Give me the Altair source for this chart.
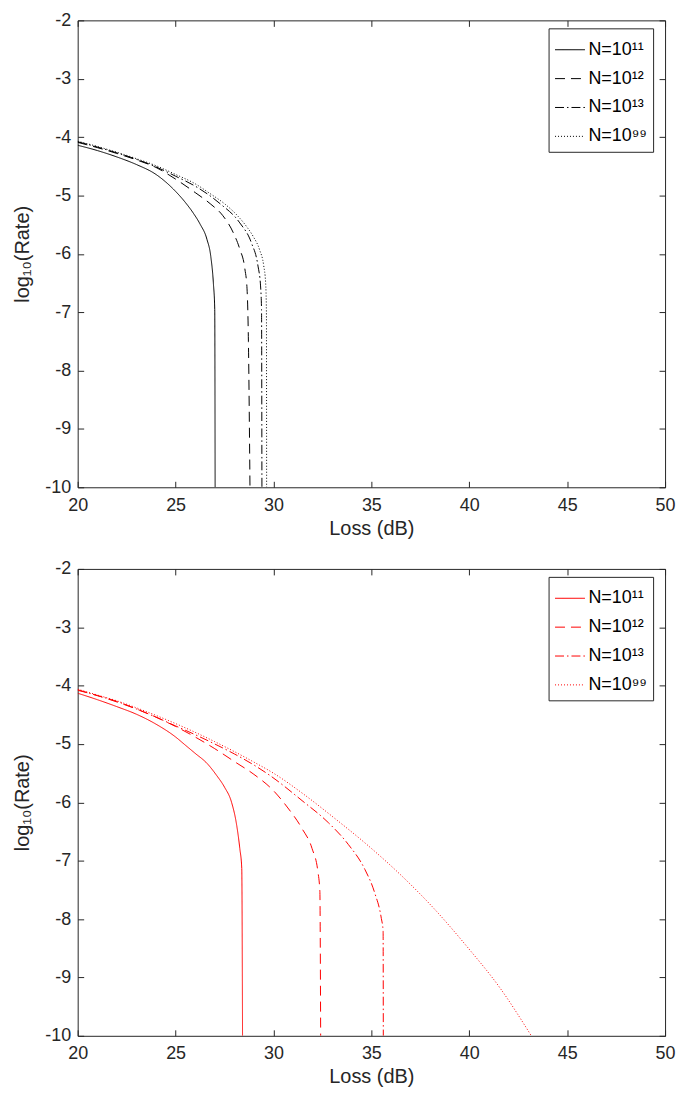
import altair as alt
import pandas as pd

# ---------------- data ----------------
series = ["N=10¹¹", "N=10¹²", "N=10¹³", "N=10⁹⁹"]
dashes = [[1, 0], [10, 6], [9, 3, 1.5, 3], [1, 2]]
x_ticks = [20, 25, 30, 35, 40, 45, 50]
y_ticks = [-2, -3, -4, -5, -6, -7, -8, -9, -10]

# top panel
top_loss_11 = [20, 21, 22, 23, 24, 24.5, 25, 25.5, 25.9, 26.25, 26.6, 26.8, 26.93, 27.0, 27.02]
top_rate_11 = [-4.14, -4.23, -4.34, -4.47, -4.64, -4.77, -4.93, -5.12, -5.30, -5.49, -5.75, -6.05, -6.5, -6.95, -10]
top_loss_12 = [20, 21, 22, 23, 24, 25, 26, 26.8, 27.4, 27.95, 28.28, 28.54, 28.65, 28.72, 28.8]
top_rate_12 = [-4.09, -4.18, -4.28, -4.39, -4.52, -4.72, -4.95, -5.15, -5.34, -5.64, -5.92, -6.26, -6.6, -7.5, -10]
top_loss_13 = [20, 21, 22, 23, 24, 25, 26.1, 27.27, 28.28, 28.87, 29.21, 29.34, 29.39, 29.41]
top_rate_13 = [-4.08, -4.17, -4.27, -4.38, -4.51, -4.67, -4.86, -5.14, -5.47, -5.81, -6.21, -6.55, -6.95, -10]
top_loss_99 = [20, 21, 22, 23, 24, 25, 26, 26.77, 27.53, 28.2, 28.62, 28.96, 29.29, 29.5, 29.6, 29.64, 29.65]
top_rate_99 = [-4.07, -4.16, -4.26, -4.37, -4.49, -4.64, -4.80, -4.97, -5.15, -5.36, -5.53, -5.70, -5.93, -6.2, -6.5, -7.0, -10]

# bottom panel
bot_loss_11 = [20, 21, 22, 23, 24, 25, 25.5, 26, 26.6, 27.1, 27.5, 27.86, 28.12, 28.28, 28.38, 28.42]
bot_rate_11 = [-4.13, -4.24, -4.36, -4.49, -4.66, -4.88, -5.02, -5.16, -5.33, -5.54, -5.74, -6.0, -6.39, -6.79, -7.13, -10]
bot_loss_12 = [20, 21, 22, 23, 24, 25, 26, 27, 28, 29, 30, 30.7, 31.46, 31.97, 32.27, 32.37, 32.41]
bot_rate_12 = [-4.08, -4.17, -4.28, -4.40, -4.54, -4.70, -4.88, -5.08, -5.30, -5.52, -5.80, -6.08, -6.45, -6.79, -7.19, -7.53, -10]
bot_loss_13 = [20, 21, 22, 23, 24, 25, 26, 27, 28, 29, 29.78, 31.46, 32.81, 33.82, 34.67, 35.17, 35.51, 35.6, 35.61]
bot_rate_13 = [-4.07, -4.17, -4.27, -4.40, -4.54, -4.69, -4.84, -5.0, -5.17, -5.36, -5.53, -5.97, -6.35, -6.72, -7.15, -7.55, -7.99, -8.2, -10]
bot_loss_99 = [20, 21, 22, 23, 24, 25, 26, 27, 28, 29, 30, 31.46, 33.15, 34.83, 36.52, 38.2, 39.88, 41.57, 43.17]
bot_rate_99 = [-4.06, -4.16, -4.26, -4.38, -4.51, -4.65, -4.80, -4.96, -5.13, -5.31, -5.50, -5.84, -6.28, -6.74, -7.25, -7.82, -8.47, -9.18, -10]


def make_df(groups):
    rows = []
    for name, xs, ys in groups:
        for i, (x, y) in enumerate(zip(xs, ys)):
            rows.append({"series": name, "loss": x, "rate": y, "order": i})
    return pd.DataFrame(rows)


top_df = make_df([
    (series[0], top_loss_11, top_rate_11),
    (series[1], top_loss_12, top_rate_12),
    (series[2], top_loss_13, top_rate_13),
    (series[3], top_loss_99, top_rate_99),
])
bot_df = make_df([
    (series[0], bot_loss_11, bot_rate_11),
    (series[1], bot_loss_12, bot_rate_12),
    (series[2], bot_loss_13, bot_rate_13),
    (series[3], bot_loss_99, bot_rate_99),
])

FONT = "Liberation Sans, Arial, DejaVu Sans, sans-serif"
INK = "#262626"
W, H = 590, 469
TICK = 6


def panel(df, color):
    return alt.Chart(df).mark_line(strokeWidth=1, color=color, clip=True,
                                   interpolate="monotone").encode(
        x=alt.X("loss:Q",
                scale=alt.Scale(domain=[20, 50], nice=False, zero=False),
                axis=alt.Axis(title="Loss (dB)", values=x_ticks, format="d",
                              labelFlush=False,
                              grid=True, gridDash=[TICK, H - 2 * TICK, TICK, 1000],
                              labelPadding=9, titlePadding=4)),
        y=alt.Y("rate:Q",
                scale=alt.Scale(domain=[-10, -2], nice=False, zero=False),
                axis=alt.Axis(title="log₁₀(Rate)", values=y_ticks,
                              labelExpr="toString(datum.value)",
                              grid=True, gridDash=[TICK, W - 2 * TICK, TICK, 1000],
                              labelPadding=7, titlePadding=12)),
        strokeDash=alt.StrokeDash("series:N",
                                  scale=alt.Scale(domain=series, range=dashes),
                                  legend=alt.Legend(title=None, orient="none",
                                                    legendX=473, legendY=8,
                                                    symbolStrokeColor=color)),
        order="order:Q",
    ).properties(width=W, height=H)


chart = alt.vconcat(panel(top_df, "#000000"), panel(bot_df, "#ff0000"),
                    spacing=82, bounds="flush").resolve_scale(
    strokeDash="independent").resolve_legend(strokeDash="independent").properties(
    padding={"left": 4, "top": 0, "right": 0, "bottom": 0}
).configure(font=FONT).configure_view(
    stroke=INK, strokeWidth=1
).configure_axis(
    domain=False, ticks=False, gridColor=INK, gridOpacity=1, gridWidth=1,
    labelFont=FONT, labelFontSize=18, labelColor=INK,
    titleFont=FONT, titleFontSize=20, titleFontWeight="normal", titleColor=INK,
).configure_legend(
    strokeColor=INK, fillColor="white", padding=6, cornerRadius=0,
    labelFont=FONT, labelFontSize=18, labelColor="#000000", labelOffset=3,
    symbolType="stroke", symbolSize=900, symbolStrokeWidth=1, rowPadding=4,
)

chart.save("out.html", embed_options={"renderer": "svg", "actions": False})
